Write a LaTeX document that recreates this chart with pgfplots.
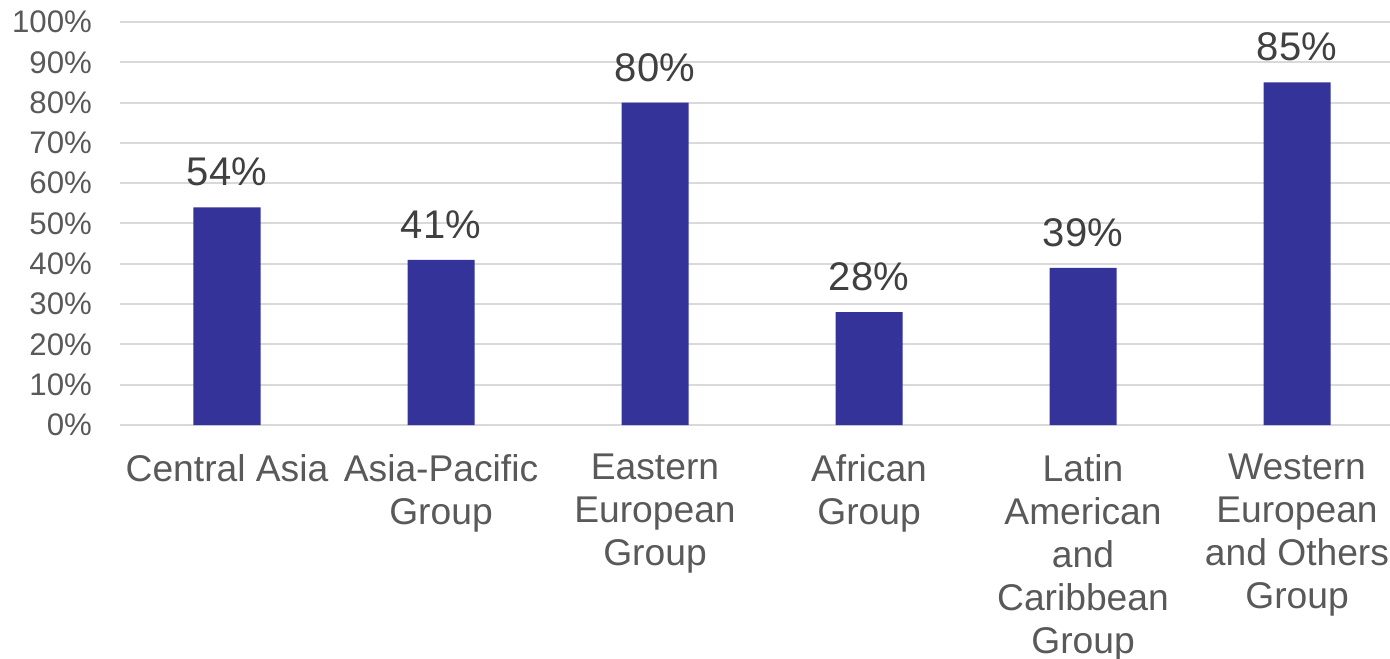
\documentclass[border=0pt]{standalone}
\usepackage{fontspec}
\setmainfont{Liberation Sans}
\usepackage{pgfplots}
\pgfplotsset{compat=1.18}
\definecolor{barblue}{HTML}{333399}
\definecolor{ticktext}{HTML}{595959}
\definecolor{labeltext}{HTML}{404040}
\definecolor{gridgray}{HTML}{D9D9D9}
\begin{document}
\begin{tikzpicture}
\useasboundingbox (-60pt,-116.5pt) rectangle (635pt,212.5pt);
\begin{axis}[
	at = {(0pt,0pt)},
	anchor = south west,
	scale only axis,
	width = 642pt,
	height = 201.5pt,
	ybar,
	bar width = 33.5pt,
	xmin = -0.5,
	xmax = 5.5,
	ymin = 0,
	ymax = 100,
	enlarge x limits = false,
	ytick = {0,10,...,100},
	xtick = {0,1,2,3,4,5},
	xticklabels = {
		Central Asia,
		Asia-Pacific\\Group,
		Eastern\\European\\Group,
		African\\Group,
		Latin\\American\\and\\Caribbean\\Group,
		Western\\European\\and Others\\Group
	},
	yticklabel = {\pgfmathprintnumber{\tick}\%},
	/pgf/number format/assume math mode = true,
	axis line style = {draw = none},
	major tick length = 0pt,
	ymajorgrids,
	grid style = {gridgray, line width = 1pt},
	yticklabel style = {
		font = \fontsize{15.6}{17}\selectfont,
		text = ticktext,
		anchor = east,
		xshift = -10.5pt
	},
	xticklabel style = {
		font = \fontsize{18.6}{21.5}\selectfont,
		text = ticktext,
		align = center,
		anchor = north,
		yshift = -11pt
	},
	nodes near coords = {\pgfmathprintnumber{\pgfplotspointmeta}\%},
	nodes near coords style = {
		font = \fontsize{20}{24}\selectfont,
		text = labeltext,
		anchor = south,
		yshift = 7pt
	},
	clip = false
]
\addplot[fill = barblue, draw = none] coordinates {
	(0, 54)
	(1, 41)
	(2, 80)
	(3, 28)
	(4, 39)
	(5, 85)
};
\end{axis}
\end{tikzpicture}
\end{document}
